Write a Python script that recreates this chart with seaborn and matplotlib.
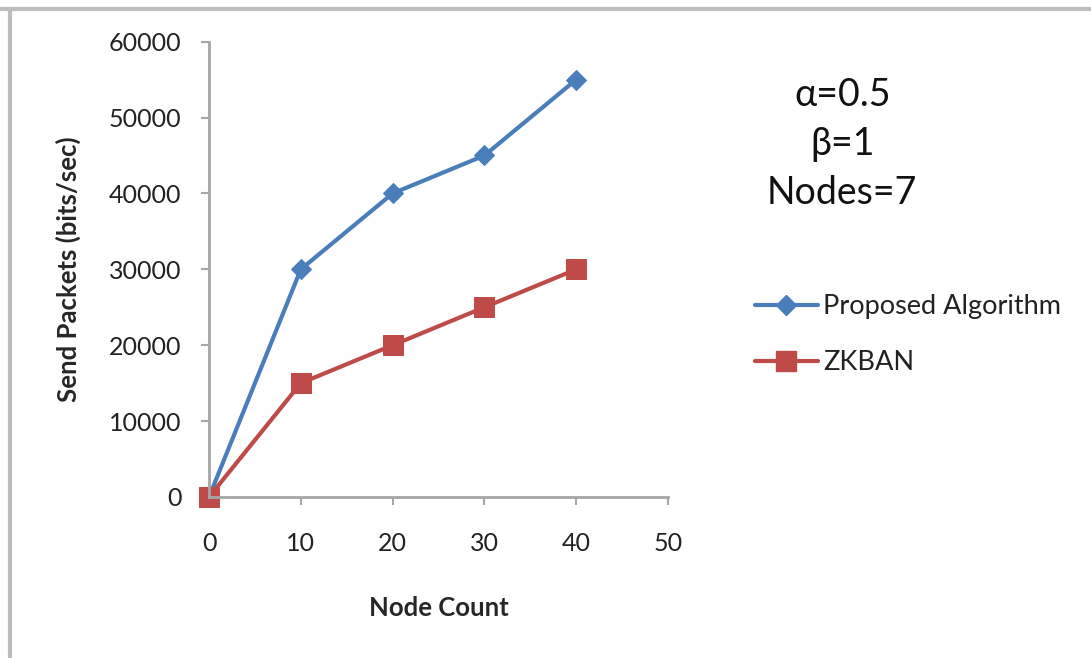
import numpy as np
import pandas as pd
import matplotlib
matplotlib.use("Agg")
import matplotlib.pyplot as plt
from matplotlib.lines import Line2D
import seaborn as sns

# Data
node_count = [0, 10, 20, 30, 40]
proposed = [0, 30000, 40000, 45000, 55000]
zkban = [0, 15000, 20000, 25000, 30000]
series_names = ["Proposed Algorithm", "ZKBAN"]
x_ticks = [0, 10, 20, 30, 40, 50]
y_ticks = [0, 10000, 20000, 30000, 40000, 50000, 60000]
params_text = ["\u03b1=0.5", "\u03b2=1", "Nodes=7"]

blue = "#4a7ebb"
red = "#be4b48"
axis_grey = "#a6a6a6"

sns.set_theme(style="white")
plt.rcParams["font.family"] = ["Lato", "DejaVu Sans"]

fig = plt.figure(figsize=(10.91, 6.58), dpi=100)
ax = fig.add_axes([0.1916, 0.2447, 0.4207, 0.692])

df = pd.DataFrame({
    "x": node_count * 2,
    "y": proposed + zkban,
    "series": [series_names[0]] * len(node_count) + [series_names[1]] * len(node_count),
})

sns.lineplot(data=df[df.series == series_names[0]], x="x", y="y", ax=ax,
             color=blue, lw=3, marker="D", markersize=10,
             markeredgecolor=blue, legend=False)
sns.lineplot(data=df[df.series == series_names[1]], x="x", y="y", ax=ax,
             color=red, lw=3, marker="s", markersize=15,
             markeredgecolor=red, legend=False)

ax.set_xlim(0, 50)
ax.set_ylim(0, 60000)
ax.set_xticks(x_ticks)
ax.set_yticks(y_ticks)
ax.set_xticklabels([str(v) for v in x_ticks])
ax.set_yticklabels([str(v) for v in y_ticks])
for line in ax.lines:
    line.set_clip_on(False)

for side in ["top", "right"]:
    ax.spines[side].set_visible(False)
for side in ["left", "bottom"]:
    ax.spines[side].set_color(axis_grey)
    ax.spines[side].set_linewidth(2)

ax.tick_params(axis="both", which="major", direction="out", length=6,
               width=1.5, color=axis_grey, labelsize=18, labelcolor="#222222")
ax.tick_params(axis="y", pad=14, left=True)
ax.tick_params(axis="x", pad=19, bottom=True)

ax.set_xlabel("Node Count", fontsize=18.5, fontweight="bold", labelpad=30)
ax.set_ylabel("Send Packets (bits/sec)", fontsize=18.5, fontweight="bold", labelpad=20)

handles = [
    Line2D([], [], color=blue, lw=3, marker="D", markersize=10),
    Line2D([], [], color=red, lw=3, marker="s", markersize=15),
]
fig.legend(handles, series_names, loc="upper left",
           bbox_to_anchor=(0.670, 0.590), frameon=False, fontsize=19.5,
           handlelength=2.3, handletextpad=0.2, labelspacing=1.15,
           labelcolor="#222222")

for i, t in enumerate(params_text):
    fig.text(0.772, 1 - (95 + 49 * i) / 658, t, ha="center", va="center",
             fontsize=27, color="#111111")

# screenshot-style frame along the top and left edges
fig.add_artist(Line2D([0, 1], [1 - 9 / 658, 1 - 9 / 658], transform=fig.transFigure,
                      color="#bdbdbd", lw=3))
fig.add_artist(Line2D([10 / 1091, 10 / 1091], [0, 1 - 9 / 658], transform=fig.transFigure,
                      color="#bdbdbd", lw=3))

fig.savefig("out.png", dpi=100, facecolor="white")
